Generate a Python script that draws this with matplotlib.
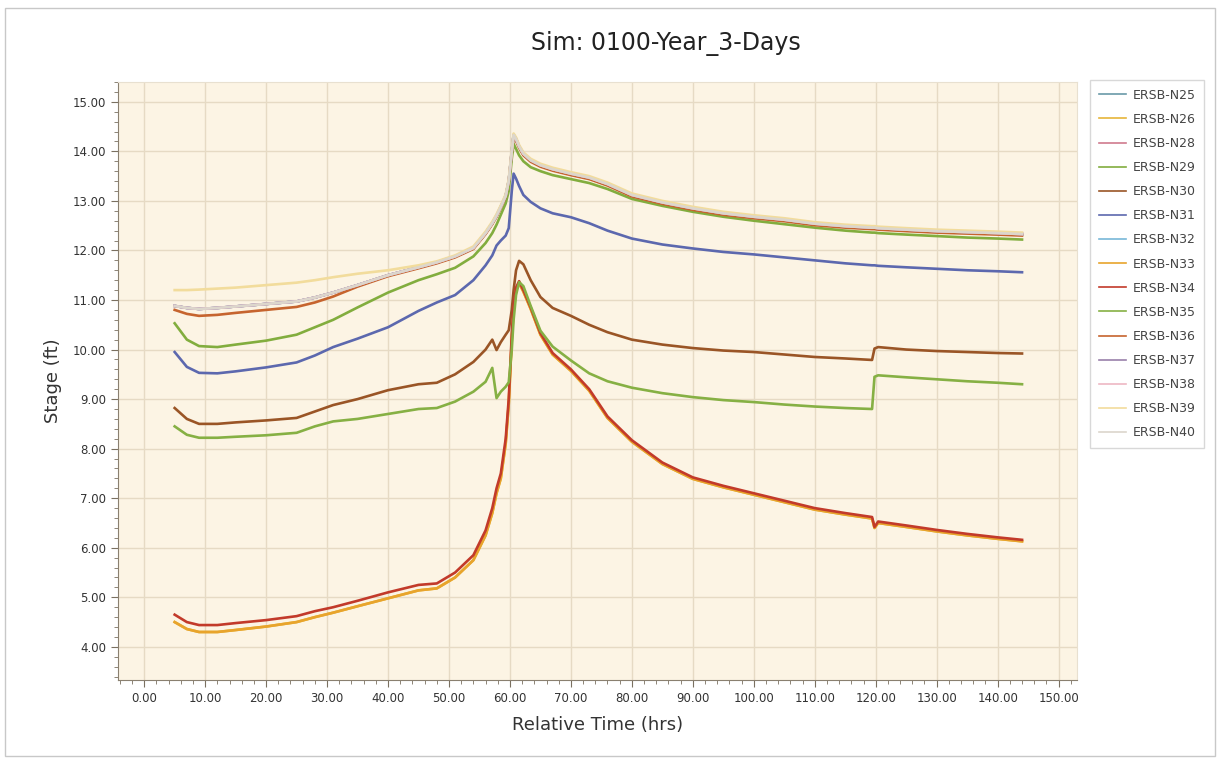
import matplotlib
matplotlib.use("Agg")
import matplotlib.pyplot as plt
from matplotlib.patches import Rectangle
from matplotlib.ticker import MultipleLocator, FormatStrFormatter

# shared time base (hrs)
hours = [5, 7, 9, 12, 15, 20, 25, 28, 31, 35, 40, 45, 48, 51, 54, 56,
         57.1, 57.8, 58.5, 59.3, 59.8, 60.3, 60.6, 61.0, 61.5, 62.2, 63.4,
         65, 67, 70, 73, 76, 80, 85, 90, 95, 100, 105, 110, 115,
         119.4, 119.8, 120.4, 125, 130, 135, 140, 144]

# upper cluster (pink)
stage_top = [10.88, 10.84, 10.82, 10.84, 10.87, 10.92, 10.97, 11.05, 11.15, 11.30,
             11.50, 11.66, 11.76, 11.88, 12.05, 12.35, 12.55, 12.70, 12.88, 13.10,
             13.40, 14.00, 14.33, 14.25, 14.10, 13.95, 13.82, 13.72, 13.64, 13.55,
             13.47, 13.34, 13.12, 12.97, 12.85, 12.75, 12.68, 12.62, 12.54, 12.49,
             12.46, 12.46, 12.45, 12.42, 12.39, 12.37, 12.35, 12.33]

# upper cluster, pale yellow start
stage_top_yel = [11.20, 11.20, 11.21, 11.23, 11.25, 11.30, 11.35, 11.40, 11.46, 11.53,
                 11.60, 11.70, 11.78, 11.90, 12.08, 12.38, 12.58, 12.73, 12.91, 13.13,
                 13.43, 14.03, 14.36, 14.28, 14.13, 13.98, 13.85, 13.75, 13.67, 13.58,
                 13.50, 13.37, 13.15, 13.00, 12.88, 12.78, 12.71, 12.65, 12.57, 12.52,
                 12.49, 12.49, 12.48, 12.45, 12.42, 12.40, 12.38, 12.36]

# upper cluster, orange-brown start
stage_top_org = [10.80, 10.72, 10.68, 10.70, 10.74, 10.80, 10.86, 10.95, 11.07, 11.27,
                 11.48, 11.64, 11.74, 11.86, 12.03, 12.33, 12.53, 12.68, 12.86, 13.08,
                 13.38, 13.97, 14.28, 14.21, 14.07, 13.92, 13.79, 13.69, 13.61, 13.52,
                 13.44, 13.31, 13.09, 12.94, 12.82, 12.72, 12.65, 12.59, 12.51, 12.46,
                 12.43, 12.43, 12.42, 12.39, 12.36, 12.34, 12.32, 12.30]

stage_green_hi = [10.53, 10.20, 10.07, 10.05, 10.10, 10.18, 10.30, 10.45, 10.60, 10.85,
                  11.15, 11.40, 11.52, 11.65, 11.88, 12.15, 12.35, 12.52, 12.72, 12.95,
                  13.20, 13.85, 14.15, 14.05, 13.92, 13.80, 13.68, 13.60, 13.52, 13.44,
                  13.36, 13.24, 13.04, 12.90, 12.78, 12.68, 12.60, 12.53, 12.46, 12.40,
                  12.36, 12.36, 12.35, 12.32, 12.29, 12.26, 12.24, 12.22]

stage_blue = [9.95, 9.65, 9.53, 9.52, 9.56, 9.64, 9.74, 9.88, 10.05, 10.22,
              10.45, 10.78, 10.95, 11.10, 11.40, 11.70, 11.90, 12.10, 12.20, 12.30,
              12.45, 13.20, 13.55, 13.45, 13.30, 13.12, 12.98, 12.85, 12.75, 12.67,
              12.55, 12.40, 12.24, 12.12, 12.04, 11.97, 11.92, 11.86, 11.80, 11.74,
              11.70, 11.70, 11.69, 11.66, 11.63, 11.60, 11.58, 11.56]

stage_brown = [8.82, 8.60, 8.50, 8.50, 8.53, 8.57, 8.62, 8.75, 8.88, 9.00,
               9.18, 9.30, 9.33, 9.50, 9.75, 10.00, 10.20, 9.99, 10.15, 10.30,
               10.39, 10.80, 11.20, 11.60, 11.79, 11.72, 11.40, 11.06, 10.84, 10.68,
               10.50, 10.35, 10.20, 10.10, 10.03, 9.98, 9.95, 9.90, 9.85, 9.82,
               9.79, 10.02, 10.05, 10.00, 9.97, 9.95, 9.93, 9.92]

stage_green_lo = [8.45, 8.28, 8.22, 8.22, 8.24, 8.27, 8.32, 8.45, 8.55, 8.60,
                  8.70, 8.80, 8.82, 8.95, 9.15, 9.35, 9.63, 9.02, 9.15, 9.25,
                  9.34, 10.00, 10.60, 11.10, 11.36, 11.28, 10.88, 10.38, 10.06, 9.78,
                  9.52, 9.36, 9.23, 9.12, 9.04, 8.98, 8.94, 8.89, 8.85, 8.82,
                  8.80, 9.45, 9.48, 9.44, 9.40, 9.36, 9.33, 9.30]

stage_red = [4.65, 4.50, 4.44, 4.44, 4.48, 4.54, 4.62, 4.72, 4.80, 4.93,
             5.10, 5.25, 5.28, 5.50, 5.85, 6.35, 6.80, 7.20, 7.50, 8.20,
             9.00, 10.30, 10.90, 11.25, 11.38, 11.20, 10.85, 10.33, 9.93, 9.60,
             9.20, 8.65, 8.17, 7.72, 7.42, 7.25, 7.10, 6.95, 6.80, 6.70,
             6.62, 6.42, 6.53, 6.45, 6.36, 6.28, 6.21, 6.16]

stage_yellow = [4.50, 4.36, 4.30, 4.30, 4.34, 4.41, 4.50, 4.60, 4.69, 4.82,
                4.98, 5.14, 5.18, 5.40, 5.75, 6.25, 6.70, 7.10, 7.40, 8.10,
                8.90, 10.20, 10.80, 11.20, 11.34, 11.17, 10.82, 10.30, 9.90, 9.57,
                9.17, 8.62, 8.14, 7.69, 7.39, 7.22, 7.07, 6.92, 6.77, 6.67,
                6.59, 6.40, 6.50, 6.42, 6.33, 6.25, 6.18, 6.13]

nodes = ["ERSB-N25", "ERSB-N26", "ERSB-N28", "ERSB-N29", "ERSB-N30",
         "ERSB-N31", "ERSB-N32", "ERSB-N33", "ERSB-N34", "ERSB-N35",
         "ERSB-N36", "ERSB-N37", "ERSB-N38", "ERSB-N39", "ERSB-N40"]

node_stage = [stage_top, stage_yellow, stage_top, stage_green_hi, stage_brown,
              stage_blue, stage_top, stage_yellow, stage_red, stage_green_lo,
              stage_top_org, stage_top, stage_top, stage_top_yel, stage_top]

node_colors = ["#6a9aa8", "#e6b53a", "#cf7a8e", "#82ad3e", "#9a5526",
               "#5c68ae", "#78b8d8", "#e8a42c", "#c23a2a", "#86b044",
               "#c6642e", "#9a80aa", "#eeb8c4", "#f2dc9c", "#dcd6cc"]

fig = plt.figure(figsize=(12.2, 7.59), dpi=100)
fig.patch.set_facecolor("white")
fig.patches.append(Rectangle((0.004, 0.004), 0.992, 0.986, transform=fig.transFigure,
                             fill=False, edgecolor="#c8c8c8", linewidth=1.0))

ax = fig.add_axes([0.0967, 0.104, 0.786, 0.788])
ax.set_facecolor("#fcf4e4")

for name, vals, col in zip(nodes, node_stage, node_colors):
    ax.plot(hours, vals, color=col, linewidth=1.9, label=name)

ax.set_xlim(-4.3, 153)
ax.set_ylim(3.33, 15.4)
ax.xaxis.set_major_locator(MultipleLocator(10))
ax.xaxis.set_minor_locator(MultipleLocator(2))
ax.yaxis.set_major_locator(MultipleLocator(1))
ax.yaxis.set_minor_locator(MultipleLocator(0.2))
ax.xaxis.set_major_formatter(FormatStrFormatter("%.2f"))
ax.yaxis.set_major_formatter(FormatStrFormatter("%.2f"))
ax.tick_params(which="major", length=5, color="#7a7060", labelsize=8.5,
               labelcolor="#333333")
ax.tick_params(which="minor", length=3, color="#7a7060")
ax.grid(True, which="major", color="#e6dac4", linewidth=1.0)
ax.set_axisbelow(True)

for side in ["left", "bottom"]:
    ax.spines[side].set_color("#8a8070")
for side in ["top", "right"]:
    ax.spines[side].set_color("#e8e0d0")

ax.set_xlabel("Relative Time (hrs)", fontsize=13, color="#333333", labelpad=8)
ax.set_ylabel("Stage (ft)", fontsize=13, color="#333333", labelpad=8)
fig.text(0.5455, 0.943, "Sim: 0100-Year_3-Days", ha="center", va="center",
         fontsize=17, color="#222222")

leg = ax.legend(loc="upper left", bbox_to_anchor=(0.8934, 0.8946),
                bbox_transform=fig.transFigure, fontsize=9, labelspacing=0.89,
                handlelength=2.2, handletextpad=0.5, frameon=True, fancybox=False,
                borderaxespad=0, borderpad=0.7)
leg.get_frame().set_edgecolor("#cfcfcf")
leg.get_frame().set_linewidth(1.0)
for line in leg.get_lines():
    line.set_linewidth(1.2)
for txt in leg.get_texts():
    txt.set_color("#444444")

fig.savefig("out.png", dpi=100)
